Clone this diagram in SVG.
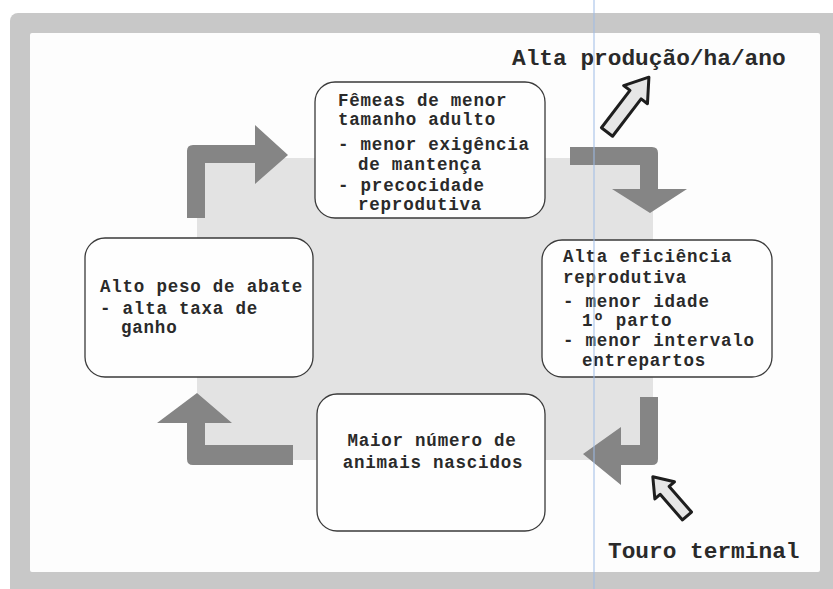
<svg xmlns="http://www.w3.org/2000/svg" width="833" height="589" viewBox="0 0 833 589">
<style>
.node rect{fill:#fefefe;stroke:#3a3a3a;stroke-width:1.3}
.t{font-family:"Liberation Mono","DejaVu Sans Mono",monospace;font-weight:bold;font-size:17.5px;letter-spacing:0.78px;fill:#2a2a2a}
.title{font-family:"Liberation Mono","DejaVu Sans Mono",monospace;font-weight:bold;font-size:22.8px;fill:#2a2a2a}
.big{fill:#858585}
.hol{fill:#e6e6e6;stroke:#1e1e1e;stroke-width:3;stroke-linejoin:round}
</style>
<rect x="0" y="0" width="833" height="589" fill="#ffffff"/>
<rect x="10" y="13" width="840" height="590" rx="8" fill="#c8c8c8"/>
<rect x="30" y="33" width="790" height="539" rx="2" fill="#fdfdfd"/>
<rect x="197" y="158" width="456" height="302" fill="#e3e3e3"/>

<g id="connectors">
  <path class="big" d="M187,218 V151 Q187,145 193,145 H255 V125 L288,155 L255,184 V163 H205 V218 Z"/>
  <path class="big" d="M570,147 H652 Q658,147 658,153 V189 H687 L650,213 L612,189 H640 V165 H570 Z"/>
  <path class="big" d="M658,397 V459 Q658,465 652,465 H621 V485 L583,454 L621,427 V445 H640 V397 Z"/>
  <path class="big" d="M293,465 H193 Q187,465 187,459 V423 H157 L197,393 L232,423 H205 V445 H293 Z"/>
  <polygon class="hol" transform="translate(607,132) rotate(-52.6)" points="0,-7 47,-7 47,-15 69,0 47,15 47,7 0,7"/>
  <polygon class="hol" transform="translate(687,516) rotate(-131.1)" points="0,-6 34,-6 34,-13 52,0 34,13 34,6 0,6"/>
</g>

<g id="node-femeas" class="node">
  <rect x="315" y="82" width="230" height="136" rx="20"/>
  <text class="t" x="338" y="106">Fêmeas de menor</text>
  <text class="t" x="338" y="125">tamanho adulto</text>
  <text class="t" x="338" y="150">- menor exigência</text>
  <text class="t" x="358" y="170">de mantença</text>
  <text class="t" x="338" y="191">- precocidade</text>
  <text class="t" x="358" y="210">reprodutiva</text>
</g>

<g id="node-eficiencia" class="node">
  <rect x="542" y="240" width="230" height="137" rx="20"/>
  <text class="t" x="563" y="262">Alta eficiência</text>
  <text class="t" x="563" y="283">reprodutiva</text>
  <text class="t" x="563" y="307">- menor idade</text>
  <text class="t" x="582" y="326">1º parto</text>
  <text class="t" x="563" y="346">- menor intervalo</text>
  <text class="t" x="582" y="366">entrepartos</text>
</g>

<g id="node-peso" class="node">
  <rect x="85" y="238" width="228" height="139" rx="20"/>
  <text class="t" x="100" y="292">Alto peso de abate</text>
  <text class="t" x="100" y="314">- alta taxa de</text>
  <text class="t" x="121" y="333">ganho</text>
</g>

<g id="node-nascidos" class="node">
  <rect x="317" y="394" width="228" height="137" rx="20"/>
  <text class="t" x="432" y="446" text-anchor="middle">Maior número de</text>
  <text class="t" x="433" y="468" text-anchor="middle">animais nascidos</text>
</g>

<g id="node-producao">
  <text class="title" x="512" y="65">Alta produção/ha/ano</text>
</g>
<g id="node-touro">
  <text class="title" x="608" y="558">Touro terminal</text>
</g>

<line x1="594" y1="0" x2="594" y2="589" stroke="#9dbbe6" stroke-width="1"/>
</svg>
